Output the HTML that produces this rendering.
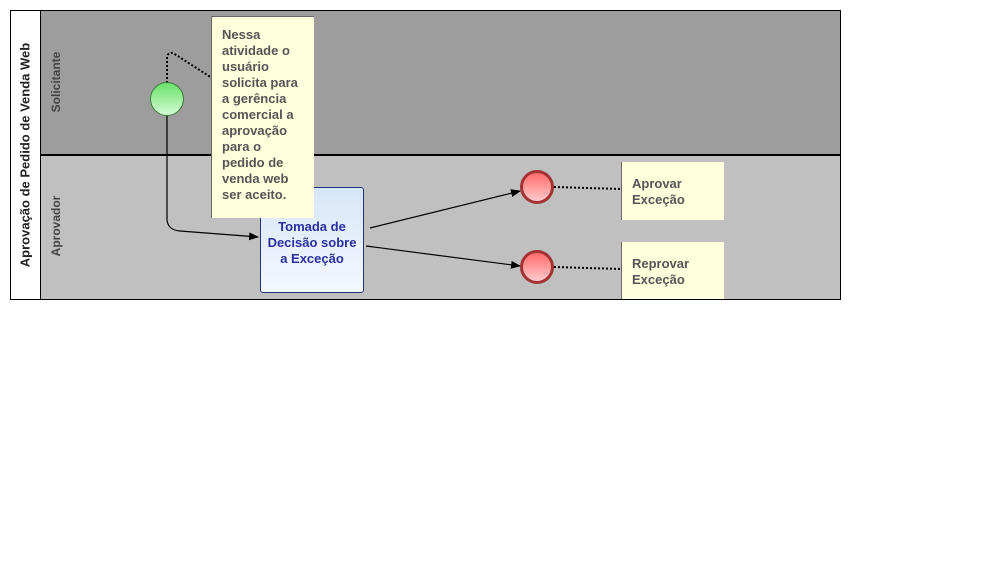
<!DOCTYPE html><html><head><style>
body{margin:0;width:1004px;height:575px;background:#fff;position:relative;overflow:hidden;font-family:"Liberation Sans",Arial,sans-serif;font-weight:bold}
.a{position:absolute}
.note{position:absolute;background:#ffffdd;color:#555;font-size:13px;line-height:16px;box-sizing:border-box;padding:10px 10px}
</style></head><body>
<div class="a" style="left:10px;top:10px;width:829px;height:288px;border:1px solid #000;background:#fff"></div>
<div class="a" style="left:40px;top:11px;width:800px;height:144px;background:#9d9d9d"></div>
<div class="a" style="left:40px;top:155px;width:800px;height:144px;background:#c0c0c0"></div>
<div class="a" style="left:40px;top:154px;width:800px;height:2px;background:#000"></div>
<div class="a" style="left:40px;top:11px;width:1px;height:288px;background:#000"></div>
<div class="a" style="left:25px;top:155px;transform:translate(-50%,-50%) rotate(-90deg);white-space:nowrap;font-size:13px;color:#222">Aprovação de Pedido de Venda Web</div>
<div class="a" style="left:56px;top:82px;transform:translate(-50%,-50%) rotate(-90deg);white-space:nowrap;font-size:12px;color:#444">Solicitante</div>
<div class="a" style="left:56px;top:226px;transform:translate(-50%,-50%) rotate(-90deg);white-space:nowrap;font-size:12px;color:#444">Aprovador</div>
<div class="a" style="left:260px;top:187px;width:104px;height:106px;border:1px solid #22337a;border-radius:3px;background:linear-gradient(#d6e6f8,#f4f8fe);color:#2a2fa0;font-size:13px;line-height:16px;text-align:center;box-sizing:border-box;padding-top:31px">Tomada de<br>Decisão sobre<br>a Exceção</div>
<svg class="a" style="left:0;top:0" width="1004" height="575">
<defs><linearGradient id="g" x1="0" y1="0" x2="0" y2="1"><stop offset="0" stop-color="#66e066"/><stop offset="1" stop-color="#d8fcd8"/></linearGradient>
<linearGradient id="r" x1="0" y1="0" x2="0" y2="1"><stop offset="0" stop-color="#ff6666"/><stop offset="1" stop-color="#ffd0d0"/></linearGradient>
<marker id="m" markerWidth="10" markerHeight="8" refX="9" refY="4" orient="auto" markerUnits="userSpaceOnUse"><path d="M0,0L10,4L0,8z" fill="#000"/></marker></defs>
<path d="M167,83 L167,57 Q168,52 173,53 L212,78" fill="none" stroke="#000" stroke-width="2" stroke-dasharray="2,2"/>
<path d="M167,115 L167,220 Q168,230 180,231 L258,237" fill="none" stroke="#000" stroke-width="1.2" marker-end="url(#m)"/>
<path d="M370,228 L520,191" stroke="#000" stroke-width="1.2" marker-end="url(#m)"/>
<path d="M366,246 L520,266" stroke="#000" stroke-width="1.2" marker-end="url(#m)"/>
<path d="M554,187 L621,189 M554,267 L621,269" stroke="#000" stroke-width="2" stroke-dasharray="2,2"/>
<circle cx="167" cy="99" r="16.5" fill="url(#g)" stroke="#3a7a3a" stroke-width="1"/>
<circle cx="537" cy="187" r="15.5" fill="url(#r)" stroke="#a33333" stroke-width="3"/>
<circle cx="537" cy="267" r="15.5" fill="url(#r)" stroke="#a33333" stroke-width="3"/>
</svg>
<div class="note" style="left:211px;top:16px;width:103px;height:202px;border-left:1px solid #666;border-top:1px solid #666">Nessa atividade o usuário solicita para a gerência comercial a aprovação para o pedido de venda web ser aceito.</div>
<div class="note" style="left:621px;top:162px;width:103px;height:58px;border-left:1px solid #666;padding-top:14px">Aprovar<br>Exceção</div>
<div class="note" style="left:621px;top:242px;width:103px;height:57px;border-left:1px solid #666;padding-top:14px">Reprovar<br>Exceção</div>
</body></html>
